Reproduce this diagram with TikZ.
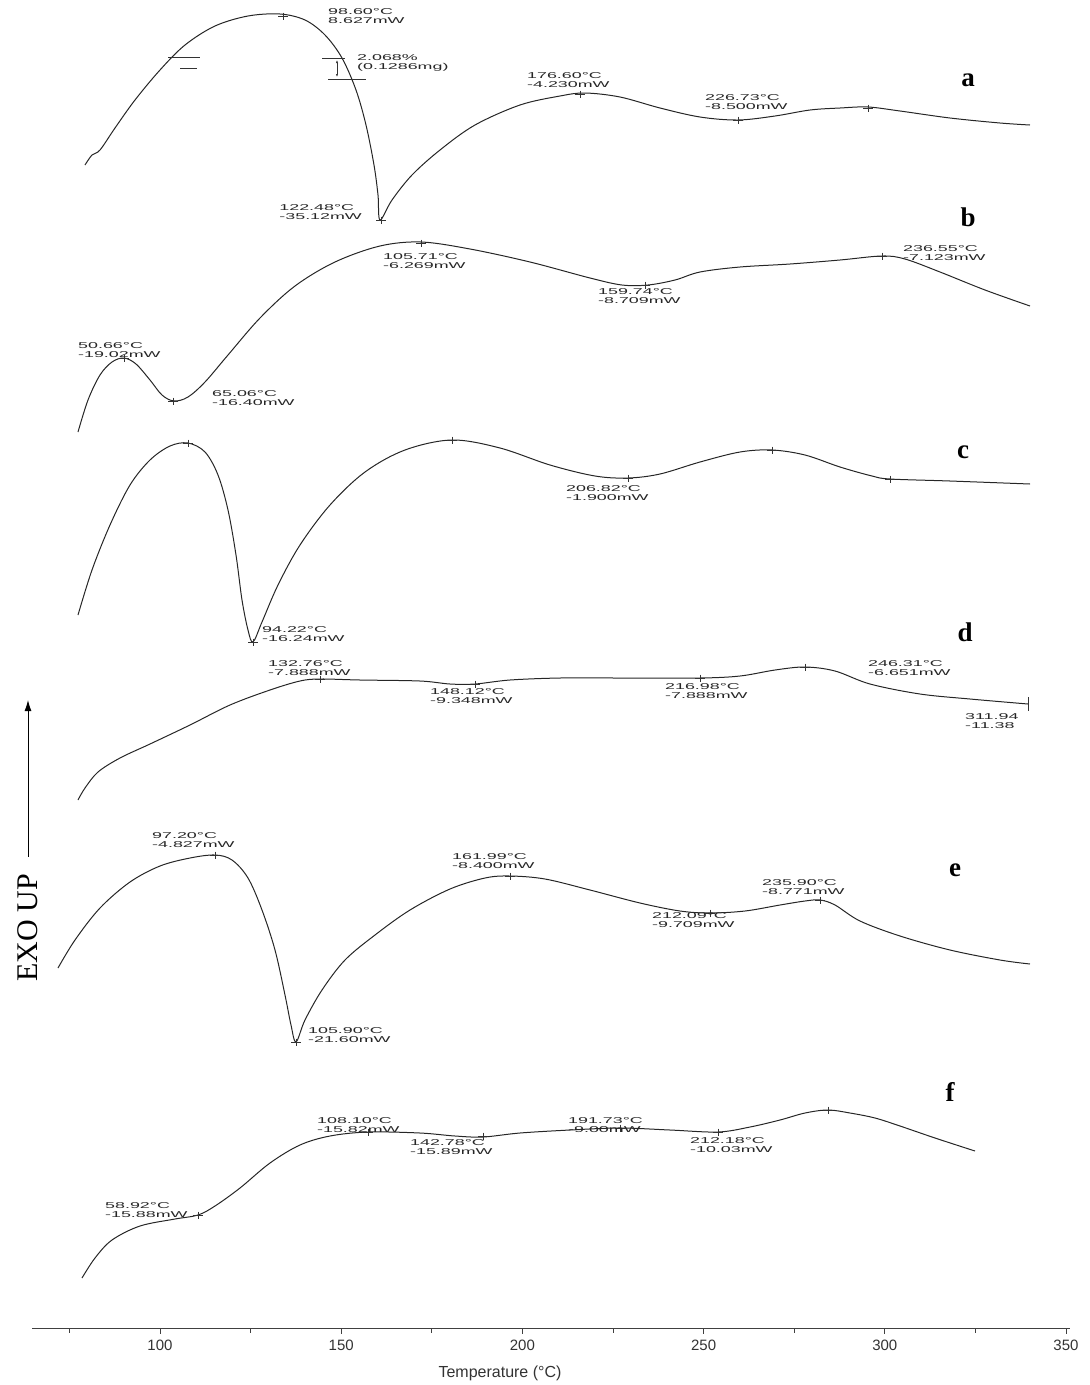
\documentclass[tikz,border=0pt]{standalone}
\usepackage{fontspec}
\setmainfont{Liberation Serif}
\setsansfont{Liberation Sans}
\newfontfamily\dscfont[FakeStretch=2.1]{Liberation Sans}
\usetikzlibrary{arrows.meta, positioning, calc}
\tikzset{
    curve/.style={draw=black!85, line width=1pt, smooth, tension=0.55},
    peaklbl/.style={font=\dscfont\fontsize{8.5}{9}\selectfont, align=left, inner sep=0pt, anchor=north west, text=black!85},
    panel/.style={font=\fontsize{27}{27}\selectfont\bfseries, inner sep=0pt},
    axislbl/.style={font=\sffamily\fontsize{15}{15}\selectfont, text=black!80},
    tic/.pic={\draw[line width=0.6pt, black!80] (-5,0) -- (5,0) (0,-3.5) -- (0,3.5);}
}

\begin{document}
\begin{tikzpicture}[x=1pt, y=-1pt]
    \useasboundingbox (0,0) rectangle (1090,1385);

    % curve a
    \draw [curve] plot coordinates {(85,165) (92,155) (100,150) (115,128) (135,100) (160,70) (185,45) (215,26) (248,16) (280,14) (305,20) (325,35) (342,58) (356,90) (366,125) (374,165) (378,195) (380,220) (392,200) (412,175) (440,150) (475,125) (520,105) (560,96) (585,93) (620,97) (660,108) (700,117) (738,120) (775,116) (810,110) (840,108) (868,107) (900,111) (950,118) (1000,123) (1030,125)};
    \foreach \p in {(283,16),(381,220),(580,94),(738,120),(868,108)} \pic at \p {tic};
    \draw [line width=0.6pt, black!80] (168,57) -- (200,57) (180,68) -- (197,68) (322,58) -- (345,58) (328,79) -- (366,79);
    \draw [line width=0.6pt, black!80, {Latex[length=3pt]}-{Latex[length=3pt]}] (337,60) -- (337,77);
    \node [peaklbl] (a1) at (328,8) {98.60°C\\8.627mW};
    \node [peaklbl] (a2) at (357,54) {2.068\%\\(0.1286mg)};
    \node [peaklbl, anchor=north east] (a3) at (362,204) {122.48°C\\-35.12mW};
    \node [peaklbl] (a4) at (527,72) {176.60°C\\-4.230mW};
    \node [peaklbl] (a5) at (705,94) {226.73°C\\-8.500mW};
    \node [panel] (la) at (968,80) {a};

    % curve b
    \draw [curve] plot coordinates {(78,432) (88,400) (100,375) (112,362) (124,358) (136,364) (150,380) (162,395) (174,401) (188,397) (205,382) (228,355) (260,318) (295,286) (335,262) (380,246) (421,242) (470,249) (530,262) (590,278) (622,285) (648,285) (675,280) (700,272) (740,267) (790,264) (840,260) (882,256) (905,259) (940,272) (985,290) (1030,306)};
    \foreach \p in {(124,358),(173,401),(421,243),(645,285),(882,256)} \pic at \p {tic};
    \node [peaklbl] (b1) at (78,342) {50.66°C\\-19.02mW};
    \node [peaklbl] (b2) at (212,390) {65.06°C\\-16.40mW};
    \node [peaklbl] (b3) at (383,253) {105.71°C\\-6.269mW};
    \node [peaklbl] (b4) at (598,288) {159.74°C\\-8.709mW};
    \node [peaklbl] (b5) at (903,245) {236.55°C\\-7.123mW};
    \node [panel] (lb) at (968,217) {b};

    % curve c
    \draw [curve] plot coordinates {(78,615) (92,570) (110,525) (130,485) (150,460) (170,446) (188,443) (205,452) (218,475) (228,510) (236,555) (242,600) (248,630) (253,642) (262,622) (278,585) (300,545) (330,505) (365,472) (405,450) (452,440) (500,448) (550,465) (595,476) (628,478) (660,474) (700,462) (740,452) (772,450) (805,455) (840,467) (872,476) (890,479) (950,481) (1030,484)};
    \foreach \p in {(188,443),(253,642),(452,440),(628,478),(772,450),(890,479)} \pic at \p {tic};
    \node [peaklbl] (c1) at (262,626) {94.22°C\\-16.24mW};
    \node [peaklbl] (c2) at (566,485) {206.82°C\\-1.900mW};
    \node [panel] (lc) at (963,452) {c};

    % curve d
    \draw [curve] plot coordinates {(78,800) (85,788) (98,772) (120,758) (150,744) (190,725) (230,705) (270,690) (300,681) (320,679) (360,680) (420,681) (450,684) (475,684) (510,680) (560,678) (620,678) (700,678) (740,676) (775,670) (805,667) (835,671) (870,684) (920,694) (970,699) (1028,704)};
    \foreach \p in {(320,679),(475,684),(700,678),(805,667)} \pic at \p {tic};
    \draw [line width=0.8pt, black!80] (1028,697) -- (1028,711);
    \node [peaklbl] (d1) at (268,660) {132.76°C\\-7.888mW};
    \node [peaklbl] (d2) at (430,688) {148.12°C\\-9.348mW};
    \node [peaklbl] (d3) at (665,683) {216.98°C\\-7.888mW};
    \node [peaklbl] (d4) at (868,660) {246.31°C\\-6.651mW};
    \node [peaklbl] (d5) at (965,713) {311.94\\-11.38};
    \node [panel] (ld) at (965,632) {d};

    % curve e
    \draw [curve] plot coordinates {(58,968) (75,940) (100,908) (130,882) (160,866) (190,858) (215,855) (232,860) (248,878) (262,910) (275,950) (285,995) (291,1025) (296,1042) (305,1020) (322,990) (345,960) (375,935) (410,910) (450,889) (485,878) (510,876) (545,879) (590,890) (640,903) (680,911) (710,913) (745,911) (780,905) (805,901) (820,900) (835,905) (860,921) (900,936) (950,950) (1000,960) (1030,964)};
    \foreach \p in {(215,855),(296,1042),(510,876),(710,913),(820,900)} \pic at \p {tic};
    \node [peaklbl] (e1) at (152,832) {97.20°C\\-4.827mW};
    \node [peaklbl] (e2) at (308,1027) {105.90°C\\-21.60mW};
    \node [peaklbl] (e3) at (452,853) {161.99°C\\-8.400mW};
    \node [peaklbl] (e4) at (652,912) {212.09°C\\-9.709mW};
    \node [peaklbl] (e5) at (762,879) {235.90°C\\-8.771mW};
    \node [panel] (le) at (955,870) {e};

    % curve f
    \draw [curve] plot coordinates {(82,1278) (95,1258) (112,1240) (140,1226) (175,1219) (198,1215) (215,1206) (240,1188) (270,1163) (300,1145) (330,1136) (368,1132) (420,1133) (455,1136) (483,1137) (520,1133) (570,1130) (620,1128) (670,1130) (718,1132) (750,1127) (780,1120) (805,1113) (828,1110) (850,1113) (875,1118) (900,1126) (935,1138) (975,1151)};
    \foreach \p in {(198,1215),(368,1132),(483,1136),(620,1128),(718,1132),(828,1110)} \pic at \p {tic};
    \node [peaklbl] (f1) at (105,1202) {58.92°C\\-15.88mW};
    \node [peaklbl] (f2) at (317,1117) {108.10°C\\-15.82mW};
    \node [peaklbl] (f3) at (410,1139) {142.78°C\\-15.89mW};
    \node [peaklbl] (f4) at (568,1117) {191.73°C\\-9.00mW};
    \node [peaklbl] (f5) at (690,1137) {212.18°C\\-10.03mW};
    \node [panel] (lf) at (950,1092) {f};

    % temperature axis
    \draw [line width=0.9pt, black!75] (32,1328) -- (1070,1328);
    \foreach \t in {75,125,...,325} {
        \pgfmathsetmacro{\tx}{160+(\t-100)*3.624}
        \draw [line width=0.7pt, black!75] (\tx,1328) -- (\tx,1333);
    }
    \foreach \t in {100,150,...,350} {
        \pgfmathsetmacro{\tx}{160+(\t-100)*3.624}
        \draw [line width=0.7pt, black!75] (\tx,1328) -- (\tx,1334);
        \node [axislbl, anchor=north] (t\t) at (\tx,1336) {\t};
    }
    \node [axislbl, font=\sffamily\fontsize{16}{16}\selectfont] (xlabel) at (500,1373) {Temperature (°C)};

    % exo up
    \node [rotate=90, font=\fontsize{30}{30}\selectfont] (exo) at (28,928) {EXO UP};
    \coordinate (exotip) at (28,700);
    \draw [line width=0.9pt, shorten <=14pt, -{Latex[length=11pt, width=7pt]}] (exo.east) -- (exotip);
\end{tikzpicture}
\end{document}
